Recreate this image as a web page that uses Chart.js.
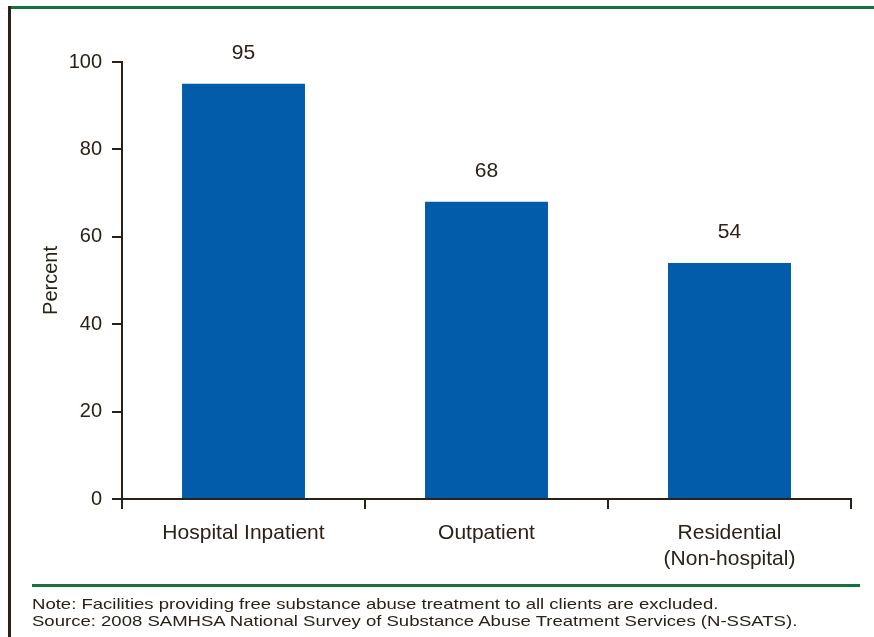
<!DOCTYPE html>
<html>
<head>
<meta charset="utf-8">
<script src="https://cdn.jsdelivr.net/npm/chart.js@4/dist/chart.umd.min.js"></script>
<style>
  html, body { margin: 0; padding: 0; background: #ffffff; }
  #wrap { position: relative; width: 874px; height: 637px; overflow: hidden; }
  #chart { position: absolute; left: 0; top: 0; }
  .frame-top { position: absolute; left: 8px; top: 6px; width: 866px; height: 3px; background: #17703f; }
  .frame-left { position: absolute; left: 8px; top: 6px; width: 3px; height: 640px; background: #2b2116; }
  .rule { position: absolute; left: 32px; top: 584px; width: 828px; height: 3px; background: #17703f; }
  .notes { position: absolute; left: 32px; top: 596px; font-family: "Liberation Sans", Arial, sans-serif;
           font-size: 15px; line-height: 16.5px; color: #2b2116; white-space: nowrap;
           transform: scaleX(1.236); transform-origin: 0 0; }
</style>
</head>
<body>
<div id="wrap">
  <canvas id="chart" width="874" height="637"></canvas>
  <div class="frame-top"></div>
  <div class="frame-left"></div>
  <div class="rule"></div>
  <div class="notes">
    <div>Note: Facilities providing free substance abuse treatment to all clients are excluded.</div>
    <div>Source: 2008 SAMHSA National Survey of Substance Abuse Treatment Services (N-SSATS).</div>
  </div>
</div>
<script>
// Facility types and share of facilities (percent)
const categories = ['Hospital Inpatient', 'Outpatient', ['Residential', '(Non-hospital)']];
const percentValues = [95, 68, 54];
const yTickValues = [0, 20, 40, 60, 80, 100];

const INK = '#2b2116';
const BAR = '#035ca9';
const FONT = '"Liberation Sans", Arial, Helvetica, sans-serif';

// Writes each bar's value above it
const valueLabels = {
  id: 'valueLabels',
  afterDatasetsDraw(chart) {
    const ctx = chart.ctx;
    const meta = chart.getDatasetMeta(0);
    ctx.save();
    ctx.font = '21px ' + FONT;
    ctx.fillStyle = INK;
    ctx.textAlign = 'center';
    ctx.textBaseline = 'middle';
    meta.data.forEach((bar, i) => {
      ctx.fillText(String(percentValues[i]), bar.x, bar.y - 31);
    });
    ctx.restore();
  }
};

new Chart(document.getElementById('chart'), {
  type: 'bar',
  data: {
    labels: categories,
    datasets: [{
      data: percentValues,
      backgroundColor: BAR,
      borderWidth: 0,
      barPercentage: 0.506,
      categoryPercentage: 1.0
    }]
  },
  options: {
    responsive: false,
    animation: false,
    events: [],
    layout: { padding: { top: 62, right: 23, left: 10, bottom: 0 } },
    plugins: {
      legend: { display: false },
      tooltip: { enabled: false }
    },
    scales: {
      x: {
        offset: true,
        grid: { display: true, drawOnChartArea: false, drawTicks: true, tickLength: 10, color: INK, lineWidth: 2, offset: true },
        border: { display: true, color: INK, width: 2 },
        ticks: { color: INK, font: { family: FONT, size: 21 }, padding: 12, maxRotation: 0, autoSkip: false },
        afterFit(scale) { scale.height = 138; }
      },
      y: {
        min: 0,
        max: 100,
        afterBuildTicks(scale) { scale.ticks = yTickValues.map(v => ({ value: v })); },
        grid: { display: true, drawOnChartArea: false, drawTicks: true, tickLength: 10, color: INK, lineWidth: 2 },
        border: { display: true, color: INK, width: 2 },
        ticks: { color: INK, font: { family: FONT, size: 20 }, padding: 10 },
        title: { display: true, text: 'Percent', color: INK, font: { family: FONT, size: 20 }, padding: { top: 29, bottom: 0 } },
        afterFit(scale) { scale.width = 112; }
      }
    }
  },
  plugins: [valueLabels]
});
</script>
</body>
</html>
